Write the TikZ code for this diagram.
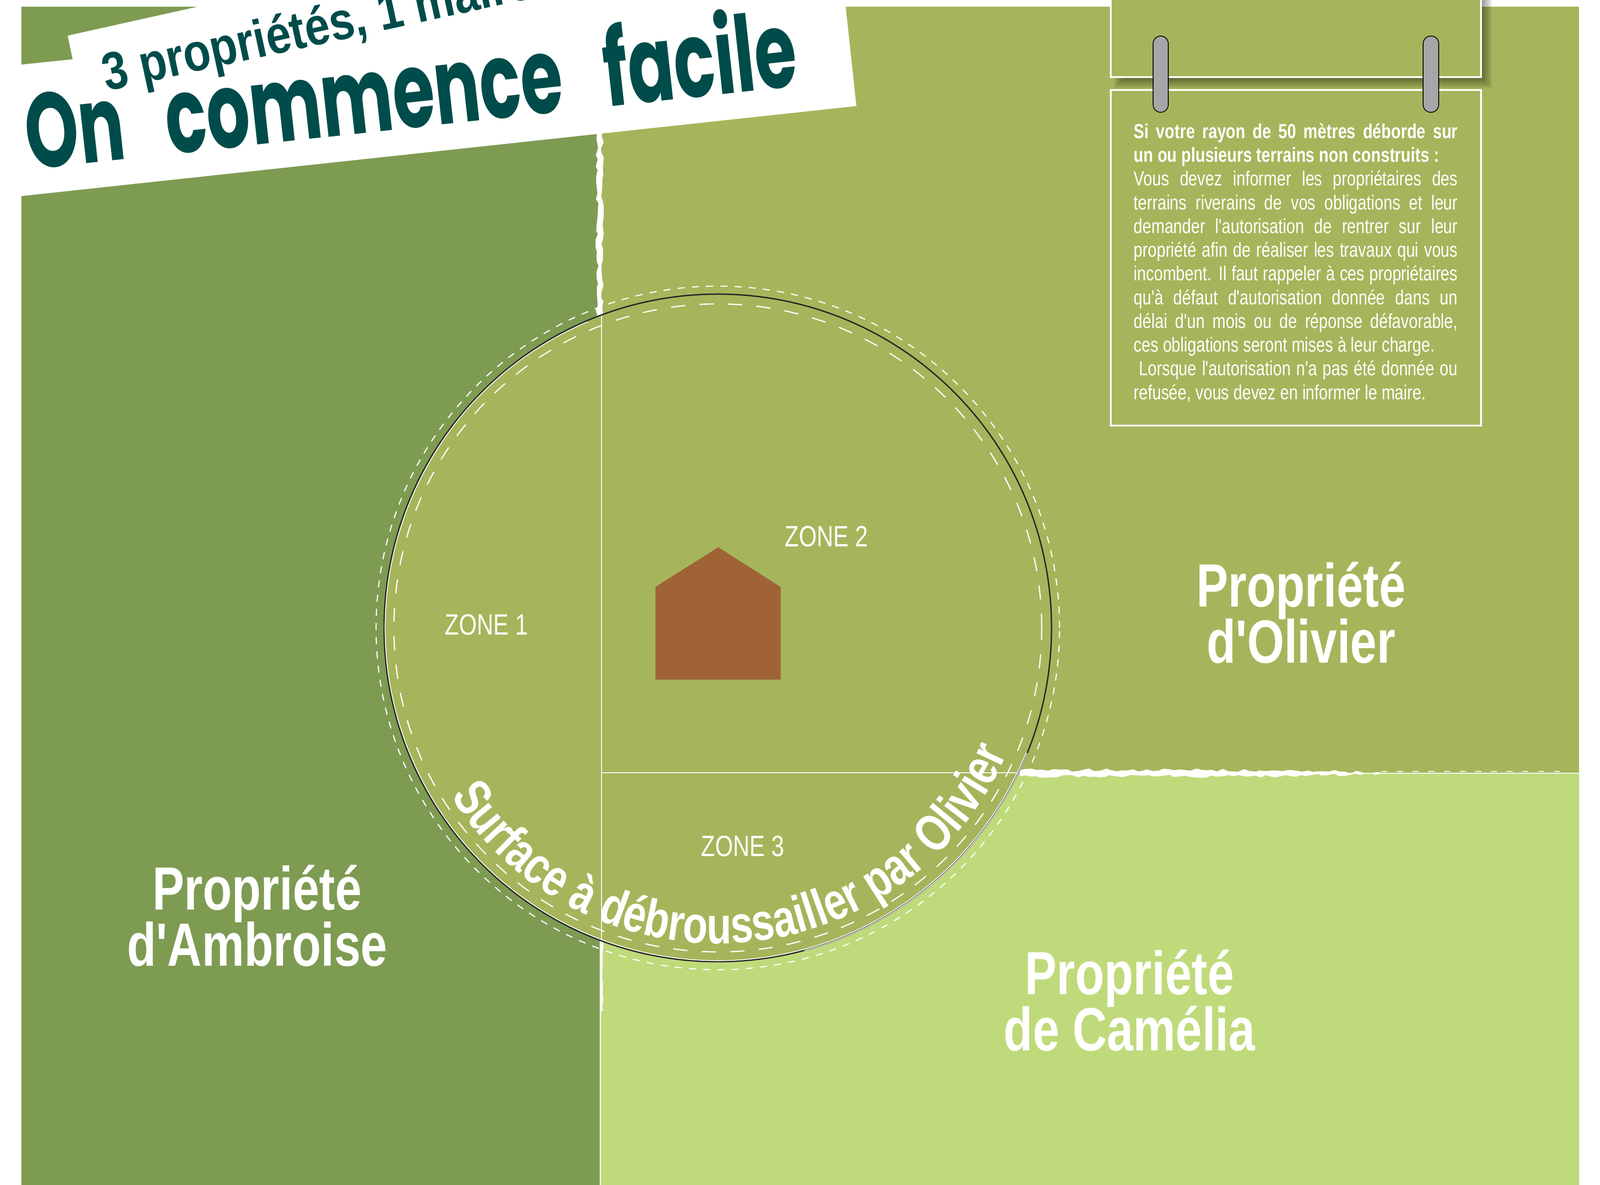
\documentclass[tikz,border=0pt]{standalone}
\usepackage{fontspec}
\usepackage{xcolor}
\setmainfont{Liberation Sans}
\newfontfamily\narrowfont[FakeStretch=.78]{Liberation Sans}
\newfontfamily\titlefont[FakeStretch=.78]{Poppins}
\usetikzlibrary{decorations.text}
\usetikzlibrary{decorations.pathmorphing}
\definecolor{ambroise}{HTML}{7E9B52}
\definecolor{olivier}{HTML}{A6B55B}
\definecolor{camelia}{HTML}{BFDA7A}
\definecolor{teal}{HTML}{004C4B}
\definecolor{house}{HTML}{A06335}
\definecolor{clip}{HTML}{A6A6A8}
\tikzset{
  zonelabel/.style={text=white,font=\narrowfont\fontsize{18.8}{20}\selectfont},
  proplabel/.style={text=white,align=center,font=\narrowfont\bfseries\fontsize{39}{39}\selectfont},
  paper/.style={fill=olivier,draw=white,line width=.9pt},
  clipbar/.style={fill=clip,draw=black,line width=.5pt,rounded corners=.17cm},
  rough/.style={fill=white,decorate,decoration={random steps,segment length=.12cm,amplitude=.035cm}}
}
\begin{document}
\begin{tikzpicture}
\useasboundingbox (0,0) rectangle (35.91,26.59);
\fill[white] (0,0) rectangle (35.91,26.59);
\fill[ambroise] (.48,0) rectangle (13.47,26.44);
\fill[olivier] (13.49,9.24) rectangle (35.44,26.44);
\fill[camelia] (13.49,0) rectangle (35.44,9.24);
\coordinate (C) at (16.11,12.50);
\fill[olivier] (C) circle (7.49);
\draw[white,line width=.5pt] (13.50,19.52) -- (13.50,5.48);
\draw[white,line width=.5pt] (13.50,9.25) -- (22.86,9.25);
\draw[white,line width=.5pt] (13.47,5.48) -- (13.47,0);
\path[rough] (13.40,23.65) -- (13.52,23.65) -- (13.52,19.51) -- (13.40,19.51) -- cycle;
\path[rough,decoration={amplitude=.015cm}] (13.47,5.48) -- (13.53,5.48) -- (13.53,3.90) -- (13.47,3.90) -- cycle;
\path[rough] (22.89,9.31) -- (29.00,9.31) -- (31.00,9.25) -- (31.00,9.23) -- (29.00,9.17) -- (22.89,9.17) -- cycle;
\draw[white,line width=.5pt,dash pattern=on 4pt off 6pt] (31.00,9.28) -- (35.20,9.28);
\draw[white,line width=.5pt] (22.89,9.24) -- (35.44,9.24);
\draw[black!85,line width=.85pt] (C) circle (7.49);
\draw[white,line width=.5pt] ([shift={(113:7.465)}]C) arc[start angle=113,end angle=338,radius=7.465];
\draw[white,line width=.4pt] ([shift={(-22:7.495)}]C) arc[start angle=-22,end angle=-75,radius=7.495];
\draw[white,line width=.75pt,dash pattern=on 9.1pt off 9.1pt] (C) circle (7.27);
\draw[white,line width=.7pt,dash pattern=on 4.55pt off 4.55pt] (C) circle (7.67);
\fill[house] (14.71,13.42) -- (16.12,14.31) -- (17.52,13.42) -- (17.52,11.34) -- (14.71,11.34) -- cycle;
\node[zonelabel] (Z1) at (10.92,12.57) {ZONE 1};
\node[zonelabel] (Z2) at (18.55,14.55) {ZONE 2};
\node[zonelabel] (Z3) at (16.67,7.60) {ZONE 3};
\path[decorate,decoration={text along path,text align=center,
  text={|\narrowfont\bfseries\fontsize{33.3}{33.3}\selectfont\color{white}|Surface à débroussailler par Olivier}}]
  ([shift={(211:7.08)}]C) arc[start angle=211,end angle=337.7,radius=7.08];
\node[proplabel] (A) at (5.77,6.04) {Propriété\\[-3.2pt]d'Ambroise};
\node[proplabel] (O) at (29.20,12.84) {Propriété\\[-3.2pt]d'Olivier};
\node[proplabel] (K) at (25.35,4.14) {Propriété\\[-3.2pt]de Camélia};
\fill[white] (4.44,26.44) -- (1.52,25.79) -- (1.63,25.26) -- (.48,25.14) -- (.48,22.19) -- (19.22,24.21) -- (18.98,26.44) -- cycle;
\node[rotate=12.3,xscale=1.08,anchor=base west,text=teal,font=\narrowfont\bfseries\fontsize{34}{34}\selectfont] (S) at (2.26,24.52) {3 propriétés, 1 maire};
\node[rotate=6.2,xscale=1.03,yscale=1.25,text=teal,font=\titlefont\bfseries\fontsize{54}{54}\selectfont] (H) at (9.20,24.66) {On \hspace{17pt}commence \hspace{17pt}facile};
\foreach \s in {.04,.08,...,.28}
  \fill[black,opacity=.08] (25.25-\s,24.86-\s) rectangle (33.24+\s,26.59);
\fill[olivier] (24.93,24.86) rectangle (33.24,26.59);
\draw[white,line width=.9pt] (24.93,26.59) -- (24.93,24.86) -- (33.24,24.86) -- (33.24,26.59);
\draw[paper] (24.93,17.04) rectangle (33.24,24.57);
\draw[clipbar] (25.88,24.07) rectangle (26.22,25.78);
\draw[clipbar] (31.94,24.07) rectangle (32.29,25.78);
\node[anchor=north west,inner sep=0,text=white,text width=7.27cm,align=justify,
  font=\narrowfont\fontsize{13}{15.16}\selectfont] (T) at (25.44,23.83)
  {{\bfseries Si votre rayon de 50 mètres déborde sur\linebreak
  un ou plusieurs terrains non construits :}\\
  Vous devez informer les propriétaires des\linebreak
  terrains riverains de vos obligations et leur\linebreak
  demander l'autorisation de rentrer sur leur\linebreak
  propriété afin de réaliser les travaux qui vous\linebreak
  incombent. Il faut rappeler à ces propriétaires\linebreak
  qu'à défaut d'autorisation donnée dans un\linebreak
  délai d'un mois ou de réponse défavorable,\linebreak
  ces obligations seront mises à leur charge.\\
  \hspace*{.12cm}Lorsque l'autorisation n'a pas été donnée ou\linebreak
  refusée, vous devez en informer le maire.};
\end{tikzpicture}
\end{document}
